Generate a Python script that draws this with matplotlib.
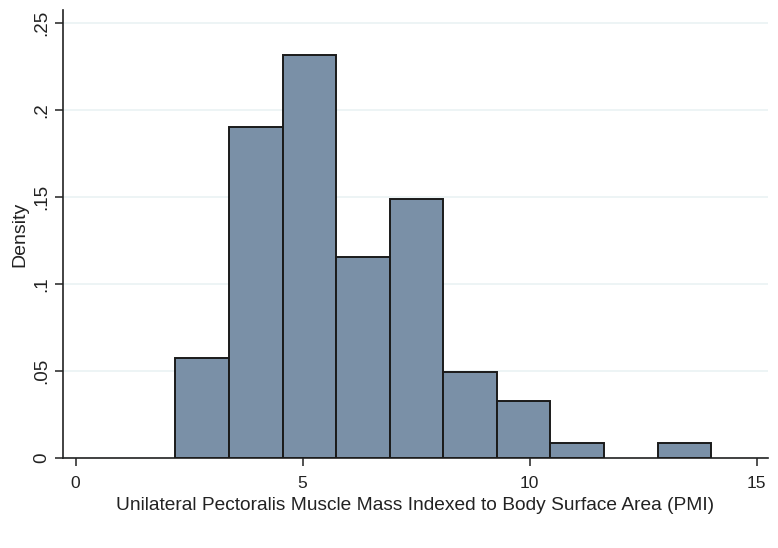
import matplotlib
matplotlib.use("Agg")
import matplotlib.pyplot as plt

# histogram bins (PMI) and densities
bin_edges = [2.2, 3.38, 4.56, 5.74, 6.92, 8.10, 9.28, 10.46, 11.64, 12.82, 14.0]
densities = [0.0575, 0.190, 0.2318, 0.1155, 0.149, 0.0494, 0.0328, 0.0086, 0.0, 0.0086]
x_ticks = [0, 5, 10, 15]
y_ticks = [0, 0.05, 0.1, 0.15, 0.2, 0.25]
y_tick_labels = ["0", ".05", ".1", ".15", ".2", ".25"]

plt.rcParams['font.family'] = ['Liberation Sans', 'DejaVu Sans']

fig = plt.figure(figsize=(7.78, 5.48), dpi=100)
ax = fig.add_axes([0.081, 0.164, 0.906, 0.818])

widths = [bin_edges[i + 1] - bin_edges[i] for i in range(len(densities))]
for left, w, h in zip(bin_edges[:-1], widths, densities):
    if h > 0:
        ax.bar(left, h, width=w, align='edge', color='#7A90A7',
               edgecolor='#1a1a1a', linewidth=1.4, zorder=3)

ax.set_xlim(-0.275, 15.25)
ax.set_ylim(0, 0.2575)

ax.set_yticks(y_ticks)
ax.set_yticklabels(y_tick_labels, rotation=90, va='center')
ax.set_xticks(x_ticks)

# light horizontal grid
ax.grid(axis='y', color='#EAF2F3', linewidth=1.2, zorder=0)
ax.set_axisbelow(True)

for s in ['top', 'right']:
    ax.spines[s].set_visible(False)
for s in ['left', 'bottom']:
    ax.spines[s].set_color('#222222')
    ax.spines[s].set_linewidth(1.2)

ax.tick_params(axis='both', colors='#222222', length=6, width=1.1)
ax.tick_params(axis='x', labelsize=12.5, pad=7)
ax.tick_params(axis='y', labelsize=13.5, pad=3)

ax.set_xlabel("Unilateral Pectoralis Muscle Mass Indexed to Body Surface Area (PMI)",
              fontsize=13.8, color='#222222', labelpad=4)
ax.set_ylabel("Density", fontsize=14, color='#222222', labelpad=4)

fig.savefig("out.png", dpi=100, facecolor='white')
